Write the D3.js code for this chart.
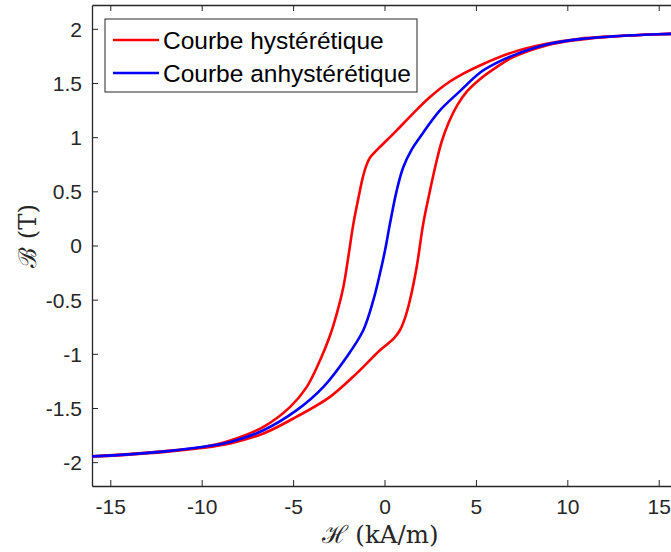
<!DOCTYPE html>
<html>
<head>
<meta charset="utf-8">
<script src="https://cdn.jsdelivr.net/npm/d3@7"></script>
<style>
    body { margin: 0; background: white; }
    .tick-label { font-family: "Liberation Sans", Arial, sans-serif; font-size: 21px; fill: #262626; }
    .legend-text { font-family: "Liberation Sans", Arial, sans-serif; font-size: 24.5px; fill: #000; }
    .axis-title { font-family: "DejaVu Serif", "Liberation Serif", serif; font-size: 24.5px; fill: #262626; }
</style>
</head>
<body>
<svg id="chart" width="671" height="552"></svg>
<script>
// branche descendante (haut)
const hUpper = [-16, -14, -12, -10, -8.44, -6.62, -5.16, -4.25, -3.5, -3.0, -2.61, -2.25, -1.98, -1.70, -1.34, -1.20, -1.0, -0.8, -0.55, -0.25, 0.30, 0.67, 1.57, 2.49, 3.40, 4.31, 5.22, 7.04, 8.86, 10.68, 12.49, 14.2, 16];
const bUpper = [-1.945, -1.925, -1.898, -1.862, -1.80, -1.674, -1.49, -1.305, -1.05, -0.84, -0.628, -0.383, -0.106, 0.202, 0.509, 0.62, 0.735, 0.81, 0.858, 0.909, 1.0, 1.063, 1.22, 1.37, 1.493, 1.586, 1.662, 1.785, 1.862, 1.909, 1.93, 1.945, 1.955];

// branche montante (bas)
const hLower = [-16, -14, -12, -10, -8.44, -6.62, -4.8, -2.98, -1.52, -0.25, 0.5, 0.85, 1.1, 1.39, 1.76, 2.12, 2.49, 2.85, 3.13, 3.5, 4.0, 4.5, 5.22, 6.13, 7.04, 8.86, 10.68, 12.49, 14.2, 16];
const bLower = [-1.948, -1.93, -1.905, -1.87, -1.827, -1.735, -1.58, -1.397, -1.18, -0.967, -0.86, -0.78, -0.68, -0.505, -0.198, 0.202, 0.509, 0.78, 0.96, 1.13, 1.30, 1.42, 1.535, 1.647, 1.739, 1.847, 1.9, 1.93, 1.945, 1.955];

// courbe anhysteretique
const hAnhyst = [-16, -14, -12, -10, -8.44, -6.62, -4.8, -3.34, -2.07, -1.16, -0.61, -0.25, 0.03, 0.30, 0.67, 1.03, 1.5, 1.94, 3.03, 4.13, 5.22, 6.13, 7.04, 8.86, 10.68, 12.49, 14.2, 16];
const bAnhyst = [-1.947, -1.928, -1.9, -1.86, -1.813, -1.705, -1.52, -1.305, -1.029, -0.782, -0.505, -0.26, -0.044, 0.202, 0.509, 0.724, 0.89, 1.0, 1.247, 1.425, 1.595, 1.685, 1.755, 1.855, 1.905, 1.93, 1.945, 1.955];

const xTicks = [-15, -10, -5, 0, 5, 10, 15];
const yTicks = [-2, -1.5, -1, -0.5, 0, 0.5, 1, 1.5, 2];
const legendLabels = ["Courbe hystérétique", "Courbe anhystérétique"];

const svg = d3.select("#chart");

const plotLeft = 92, plotRight = 677, plotTop = 5, plotBottom = 486;

const x = d3.scaleLinear().domain([-16, 16]).range([plotLeft, plotRight]);
const y = d3.scaleLinear().domain([-2.22, 2.22]).range([plotBottom, plotTop]);

const axisColor = "#262626";

function plainNumber(d) {
    return String(d);
}

// axe du bas
const xAxis = svg.append("g")
    .attr("transform", "translate(0," + plotBottom + ")")
    .call(d3.axisBottom(x).tickValues(xTicks).tickSizeInner(-6).tickSizeOuter(0).tickFormat(plainNumber));
xAxis.select(".domain").attr("stroke", axisColor).attr("stroke-width", 1.3);
xAxis.selectAll(".tick line").attr("stroke", axisColor);
xAxis.attr("font-size", null).attr("font-family", null);
xAxis.selectAll(".tick text")
    .attr("class", "tick-label")
    .attr("fill", null)
    .attr("y", 13)
    .attr("dy", "0.71em");

// axe du haut (ticks seuls)
const topAxis = svg.append("g")
    .attr("transform", "translate(0," + plotTop + ")")
    .call(d3.axisTop(x).tickValues(xTicks).tickSizeInner(-6).tickSizeOuter(0).tickFormat(""));
topAxis.select(".domain").attr("stroke", axisColor).attr("stroke-width", 1.3);
topAxis.selectAll(".tick line").attr("stroke", axisColor);

// axe de gauche
const yAxis = svg.append("g")
    .attr("transform", "translate(" + plotLeft + ",0)")
    .call(d3.axisLeft(y).tickValues(yTicks).tickSizeInner(-6).tickSizeOuter(0).tickFormat(plainNumber));
yAxis.select(".domain").attr("stroke", axisColor).attr("stroke-width", 1.3);
yAxis.selectAll(".tick line").attr("stroke", axisColor);
yAxis.attr("font-size", null).attr("font-family", null);
yAxis.selectAll(".tick text")
    .attr("class", "tick-label")
    .attr("fill", null)
    .attr("x", -10)
    .attr("dy", "0.35em");

// courbes
svg.append("clipPath").attr("id", "plot-clip")
    .append("rect")
    .attr("x", plotLeft).attr("y", plotTop)
    .attr("width", plotRight - plotLeft).attr("height", plotBottom - plotTop);

const line = d3.line()
    .x(function(d) { return x(d[0]); })
    .y(function(d) { return y(d[1]); })
    .curve(d3.curveCatmullRom.alpha(0.5));

const plot = svg.append("g").attr("clip-path", "url(#plot-clip)");

plot.append("path")
    .datum(d3.zip(hUpper, bUpper))
    .attr("d", line)
    .attr("fill", "none")
    .attr("stroke", "#ff0000")
    .attr("stroke-width", 2.6);

plot.append("path")
    .datum(d3.zip(hLower, bLower))
    .attr("d", line)
    .attr("fill", "none")
    .attr("stroke", "#ff0000")
    .attr("stroke-width", 2.6);

plot.append("path")
    .datum(d3.zip(hAnhyst, bAnhyst))
    .attr("d", line)
    .attr("fill", "none")
    .attr("stroke", "#0000ff")
    .attr("stroke-width", 2.6);

// titres des axes
svg.append("text")
    .attr("class", "axis-title")
    .attr("x", 380)
    .attr("y", 543)
    .attr("text-anchor", "middle")
    .text("ℋ (kA/m)");

svg.append("text")
    .attr("class", "axis-title")
    .attr("transform", "translate(36,236) rotate(-90)")
    .attr("text-anchor", "middle")
    .text("ℬ (T)");

// legende
const legend = svg.append("g").attr("transform", "translate(105,19)");
legend.append("rect")
    .attr("width", 312)
    .attr("height", 73)
    .attr("fill", "white")
    .attr("stroke", axisColor)
    .attr("stroke-width", 1);

const legendColors = ["#ff0000", "#0000ff"];

legendLabels.forEach(function(label, i) {
    const rowY = 21 + i * 33;
    legend.append("line")
        .attr("x1", 8).attr("x2", 54)
        .attr("y1", rowY).attr("y2", rowY)
        .attr("stroke", legendColors[i])
        .attr("stroke-width", 2.6);
    legend.append("text")
        .attr("class", "legend-text")
        .attr("x", 58)
        .attr("y", rowY)
        .attr("dy", "0.35em")
        .text(label);
});
</script>
</body>
</html>
